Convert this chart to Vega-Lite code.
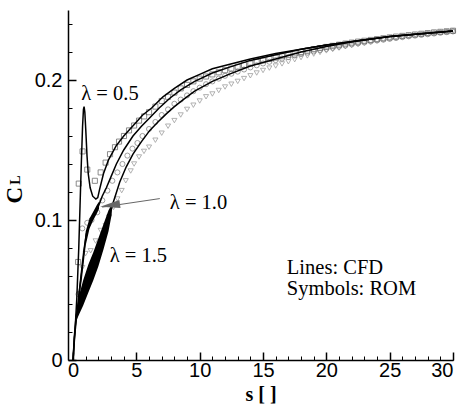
{
  "$schema": "https://vega.github.io/schema/vega-lite/v6.json",
  "width": 385,
  "height": 350,
  "autosize": {"type": "none"},
  "padding": {"left": 68, "top": 10, "right": 15, "bottom": 55},
  "background": "white",
  "config": {
    "view": {"stroke": null},
    "axis": {"grid": false, "domainColor": "black", "tickColor": "black", "labelColor": "black", "titleColor": "black"}
  },
  "resolve": {"axis": {"x": "independent", "y": "independent"}},
  "datasets": {
    "cfd": [
      {"series": "0.5", "s": 0, "cl": 0},
      {"series": "0.5", "s": 0.15, "cl": 0.02},
      {"series": "0.5", "s": 0.3, "cl": 0.045},
      {"series": "0.5", "s": 0.45, "cl": 0.08},
      {"series": "0.5", "s": 0.55, "cl": 0.11},
      {"series": "0.5", "s": 0.65, "cl": 0.14},
      {"series": "0.5", "s": 0.75, "cl": 0.167},
      {"series": "0.5", "s": 0.82, "cl": 0.179},
      {"series": "0.5", "s": 0.87, "cl": 0.181},
      {"series": "0.5", "s": 0.93, "cl": 0.177},
      {"series": "0.5", "s": 1.0, "cl": 0.165},
      {"series": "0.5", "s": 1.1, "cl": 0.146},
      {"series": "0.5", "s": 1.2, "cl": 0.133},
      {"series": "0.5", "s": 1.35, "cl": 0.123},
      {"series": "0.5", "s": 1.55, "cl": 0.117},
      {"series": "0.5", "s": 1.8, "cl": 0.115},
      {"series": "0.5", "s": 1.95, "cl": 0.116},
      {"series": "0.5", "s": 2.1, "cl": 0.122},
      {"series": "0.5", "s": 2.4, "cl": 0.133},
      {"series": "0.5", "s": 2.8, "cl": 0.143},
      {"series": "0.5", "s": 3.4, "cl": 0.153},
      {"series": "0.5", "s": 4.0, "cl": 0.16},
      {"series": "0.5", "s": 4.7, "cl": 0.167},
      {"series": "0.5", "s": 5.5, "cl": 0.175},
      {"series": "0.5", "s": 6.2, "cl": 0.18},
      {"series": "0.5", "s": 7.1, "cl": 0.188},
      {"series": "0.5", "s": 8.0, "cl": 0.194},
      {"series": "0.5", "s": 9.0, "cl": 0.2},
      {"series": "0.5", "s": 10, "cl": 0.204},
      {"series": "0.5", "s": 11, "cl": 0.208},
      {"series": "0.5", "s": 12.3, "cl": 0.211},
      {"series": "0.5", "s": 14, "cl": 0.215},
      {"series": "0.5", "s": 16, "cl": 0.219},
      {"series": "0.5", "s": 18, "cl": 0.222},
      {"series": "0.5", "s": 20, "cl": 0.225},
      {"series": "0.5", "s": 22.5, "cl": 0.228},
      {"series": "0.5", "s": 25, "cl": 0.231},
      {"series": "0.5", "s": 27.5, "cl": 0.233},
      {"series": "0.5", "s": 30, "cl": 0.235},
      {"series": "1.0", "s": 0, "cl": 0},
      {"series": "1.0", "s": 0.1, "cl": 0.015},
      {"series": "1.0", "s": 0.3, "cl": 0.033},
      {"series": "1.0", "s": 0.6, "cl": 0.058},
      {"series": "1.0", "s": 0.85, "cl": 0.078},
      {"series": "1.0", "s": 1.05, "cl": 0.09},
      {"series": "1.0", "s": 1.4, "cl": 0.099},
      {"series": "1.0", "s": 1.7, "cl": 0.104},
      {"series": "1.0", "s": 2.05, "cl": 0.111},
      {"series": "1.0", "s": 2.3, "cl": 0.117},
      {"series": "1.0", "s": 2.63, "cl": 0.123},
      {"series": "1.0", "s": 3.0, "cl": 0.131},
      {"series": "1.0", "s": 3.42, "cl": 0.14},
      {"series": "1.0", "s": 4.0, "cl": 0.15},
      {"series": "1.0", "s": 4.73, "cl": 0.16},
      {"series": "1.0", "s": 5.4, "cl": 0.167},
      {"series": "1.0", "s": 6.06, "cl": 0.173},
      {"series": "1.0", "s": 6.8, "cl": 0.18},
      {"series": "1.0", "s": 7.64, "cl": 0.187},
      {"series": "1.0", "s": 8.5, "cl": 0.193},
      {"series": "1.0", "s": 9.6, "cl": 0.199},
      {"series": "1.0", "s": 11, "cl": 0.205},
      {"series": "1.0", "s": 12.3, "cl": 0.209},
      {"series": "1.0", "s": 14, "cl": 0.214},
      {"series": "1.0", "s": 16, "cl": 0.218},
      {"series": "1.0", "s": 18, "cl": 0.222},
      {"series": "1.0", "s": 20, "cl": 0.225},
      {"series": "1.0", "s": 22.5, "cl": 0.228},
      {"series": "1.0", "s": 25, "cl": 0.231},
      {"series": "1.0", "s": 27.5, "cl": 0.233},
      {"series": "1.0", "s": 30, "cl": 0.235},
      {"series": "1.5", "s": 0, "cl": 0},
      {"series": "1.5", "s": 0.1, "cl": 0.017},
      {"series": "1.5", "s": 0.25, "cl": 0.032},
      {"series": "1.5", "s": 0.5, "cl": 0.04},
      {"series": "1.5", "s": 0.8, "cl": 0.048},
      {"series": "1.5", "s": 1.2, "cl": 0.058},
      {"series": "1.5", "s": 1.6, "cl": 0.067},
      {"series": "1.5", "s": 2.0, "cl": 0.077},
      {"series": "1.5", "s": 2.4, "cl": 0.088},
      {"series": "1.5", "s": 2.8, "cl": 0.1},
      {"series": "1.5", "s": 3.15, "cl": 0.112},
      {"series": "1.5", "s": 3.68, "cl": 0.127},
      {"series": "1.5", "s": 4.2, "cl": 0.138},
      {"series": "1.5", "s": 4.73, "cl": 0.147},
      {"series": "1.5", "s": 5.4, "cl": 0.156},
      {"series": "1.5", "s": 6.06, "cl": 0.164},
      {"series": "1.5", "s": 6.7, "cl": 0.17},
      {"series": "1.5", "s": 7.38, "cl": 0.176},
      {"series": "1.5", "s": 8.0, "cl": 0.181},
      {"series": "1.5", "s": 8.7, "cl": 0.186},
      {"series": "1.5", "s": 9.6, "cl": 0.192},
      {"series": "1.5", "s": 11, "cl": 0.199},
      {"series": "1.5", "s": 12.3, "cl": 0.204},
      {"series": "1.5", "s": 14, "cl": 0.21},
      {"series": "1.5", "s": 16, "cl": 0.215},
      {"series": "1.5", "s": 18, "cl": 0.22},
      {"series": "1.5", "s": 20, "cl": 0.224},
      {"series": "1.5", "s": 22.5, "cl": 0.228},
      {"series": "1.5", "s": 25, "cl": 0.231},
      {"series": "1.5", "s": 27.5, "cl": 0.233},
      {"series": "1.5", "s": 30, "cl": 0.235}
    ],
    "band": [
      {"series": "1.0", "s": 0.4, "lo": 0.038, "hi": 0.046},
      {"series": "1.0", "s": 0.7, "lo": 0.058, "hi": 0.068},
      {"series": "1.0", "s": 1.0, "lo": 0.082, "hi": 0.092},
      {"series": "1.0", "s": 1.3, "lo": 0.094, "hi": 0.101},
      {"series": "1.0", "s": 1.6, "lo": 0.1, "hi": 0.106},
      {"series": "1.0", "s": 1.9, "lo": 0.105, "hi": 0.111},
      {"series": "1.0", "s": 2.05, "lo": 0.108, "hi": 0.113},
      {"series": "1.5", "s": 0.3, "lo": 0.029, "hi": 0.037},
      {"series": "1.5", "s": 0.5, "lo": 0.033, "hi": 0.047},
      {"series": "1.5", "s": 0.8, "lo": 0.039, "hi": 0.057},
      {"series": "1.5", "s": 1.2, "lo": 0.048, "hi": 0.068},
      {"series": "1.5", "s": 1.6, "lo": 0.057, "hi": 0.077},
      {"series": "1.5", "s": 2.0, "lo": 0.067, "hi": 0.087},
      {"series": "1.5", "s": 2.4, "lo": 0.079, "hi": 0.097},
      {"series": "1.5", "s": 2.8, "lo": 0.092, "hi": 0.107},
      {"series": "1.5", "s": 3.05, "lo": 0.104, "hi": 0.111}
    ],
    "rom": [
      {"series": "0.5", "s": 0.4, "cl": 0.07},
      {"series": "0.5", "s": 0.45, "cl": 0.126},
      {"series": "0.5", "s": 0.75, "cl": 0.149},
      {"series": "0.5", "s": 1.12, "cl": 0.136},
      {"series": "0.5", "s": 1.72, "cl": 0.128},
      {"series": "0.5", "s": 2.18, "cl": 0.134},
      {"series": "0.5", "s": 2.57, "cl": 0.141},
      {"series": "0.5", "s": 2.92, "cl": 0.147},
      {"series": "0.5", "s": 3.31, "cl": 0.152},
      {"series": "0.5", "s": 3.63, "cl": 0.156},
      {"series": "0.5", "s": 4.02, "cl": 0.16},
      {"series": "0.5", "s": 4.42, "cl": 0.164},
      {"series": "0.5", "s": 4.82, "cl": 0.1675},
      {"series": "0.5", "s": 5.21, "cl": 0.171},
      {"series": "0.5", "s": 5.61, "cl": 0.174},
      {"series": "0.5", "s": 6.0, "cl": 0.177},
      {"series": "0.5", "s": 6.5, "cl": 0.181},
      {"series": "0.5", "s": 7.0, "cl": 0.185},
      {"series": "0.5", "s": 7.5, "cl": 0.188},
      {"series": "0.5", "s": 8.0, "cl": 0.191},
      {"series": "0.5", "s": 8.5, "cl": 0.194},
      {"series": "0.5", "s": 9.0, "cl": 0.1965},
      {"series": "0.5", "s": 9.5, "cl": 0.199},
      {"series": "0.5", "s": 10.0, "cl": 0.201},
      {"series": "0.5", "s": 10.5, "cl": 0.2025},
      {"series": "0.5", "s": 11.0, "cl": 0.204},
      {"series": "0.5", "s": 11.5, "cl": 0.2055},
      {"series": "0.5", "s": 12.0, "cl": 0.207},
      {"series": "0.5", "s": 12.5, "cl": 0.2082},
      {"series": "0.5", "s": 13.0, "cl": 0.2095},
      {"series": "0.5", "s": 13.5, "cl": 0.2107},
      {"series": "0.5", "s": 14.0, "cl": 0.2118},
      {"series": "0.5", "s": 14.5, "cl": 0.213},
      {"series": "0.5", "s": 15.0, "cl": 0.214},
      {"series": "0.5", "s": 15.5, "cl": 0.215},
      {"series": "0.5", "s": 16.0, "cl": 0.216},
      {"series": "0.5", "s": 16.5, "cl": 0.217},
      {"series": "0.5", "s": 17.0, "cl": 0.218},
      {"series": "0.5", "s": 17.5, "cl": 0.219},
      {"series": "0.5", "s": 18.0, "cl": 0.22},
      {"series": "0.5", "s": 18.5, "cl": 0.221},
      {"series": "0.5", "s": 19.0, "cl": 0.222},
      {"series": "0.5", "s": 19.5, "cl": 0.2228},
      {"series": "0.5", "s": 20.0, "cl": 0.2236},
      {"series": "0.5", "s": 20.5, "cl": 0.2244},
      {"series": "0.5", "s": 21.0, "cl": 0.2252},
      {"series": "0.5", "s": 21.5, "cl": 0.226},
      {"series": "0.5", "s": 22.0, "cl": 0.2267},
      {"series": "0.5", "s": 22.5, "cl": 0.2274},
      {"series": "0.5", "s": 23.0, "cl": 0.228},
      {"series": "0.5", "s": 23.5, "cl": 0.2286},
      {"series": "0.5", "s": 24.0, "cl": 0.2292},
      {"series": "0.5", "s": 24.5, "cl": 0.2298},
      {"series": "0.5", "s": 25.0, "cl": 0.2304},
      {"series": "0.5", "s": 25.5, "cl": 0.231},
      {"series": "0.5", "s": 26.0, "cl": 0.2315},
      {"series": "0.5", "s": 26.5, "cl": 0.232},
      {"series": "0.5", "s": 27.0, "cl": 0.2325},
      {"series": "0.5", "s": 27.5, "cl": 0.233},
      {"series": "0.5", "s": 28.0, "cl": 0.2335},
      {"series": "0.5", "s": 28.5, "cl": 0.234},
      {"series": "0.5", "s": 29.0, "cl": 0.2344},
      {"series": "0.5", "s": 29.5, "cl": 0.2348},
      {"series": "0.5", "s": 30.0, "cl": 0.2352},
      {"series": "1.0", "s": 0.43, "cl": 0.047},
      {"series": "1.0", "s": 0.73, "cl": 0.094},
      {"series": "1.0", "s": 1.12, "cl": 0.098},
      {"series": "1.0", "s": 1.46, "cl": 0.1},
      {"series": "1.0", "s": 1.91, "cl": 0.1055},
      {"series": "1.0", "s": 2.31, "cl": 0.114},
      {"series": "1.0", "s": 2.71, "cl": 0.121},
      {"series": "1.0", "s": 3.1, "cl": 0.128},
      {"series": "1.0", "s": 3.5, "cl": 0.134},
      {"series": "1.0", "s": 3.9, "cl": 0.14},
      {"series": "1.0", "s": 4.29, "cl": 0.146},
      {"series": "1.0", "s": 4.69, "cl": 0.151},
      {"series": "1.0", "s": 5.08, "cl": 0.155},
      {"series": "1.0", "s": 5.48, "cl": 0.16},
      {"series": "1.0", "s": 6.0, "cl": 0.165},
      {"series": "1.0", "s": 6.5, "cl": 0.17},
      {"series": "1.0", "s": 7.0, "cl": 0.175},
      {"series": "1.0", "s": 7.5, "cl": 0.179},
      {"series": "1.0", "s": 8.0, "cl": 0.183},
      {"series": "1.0", "s": 8.5, "cl": 0.186},
      {"series": "1.0", "s": 9.0, "cl": 0.189},
      {"series": "1.0", "s": 9.5, "cl": 0.192},
      {"series": "1.0", "s": 10.0, "cl": 0.1945},
      {"series": "1.0", "s": 10.5, "cl": 0.197},
      {"series": "1.0", "s": 11.0, "cl": 0.199},
      {"series": "1.0", "s": 11.5, "cl": 0.201},
      {"series": "1.0", "s": 12.0, "cl": 0.203},
      {"series": "1.0", "s": 12.5, "cl": 0.2045},
      {"series": "1.0", "s": 13.0, "cl": 0.206},
      {"series": "1.0", "s": 13.5, "cl": 0.2075},
      {"series": "1.0", "s": 14.0, "cl": 0.209},
      {"series": "1.0", "s": 14.5, "cl": 0.2105},
      {"series": "1.0", "s": 15.0, "cl": 0.2118},
      {"series": "1.0", "s": 15.5, "cl": 0.213},
      {"series": "1.0", "s": 16.0, "cl": 0.2142},
      {"series": "1.0", "s": 16.5, "cl": 0.2153},
      {"series": "1.0", "s": 17.0, "cl": 0.2164},
      {"series": "1.0", "s": 17.5, "cl": 0.2175},
      {"series": "1.0", "s": 18.0, "cl": 0.2185},
      {"series": "1.0", "s": 18.5, "cl": 0.2195},
      {"series": "1.0", "s": 19.0, "cl": 0.2204},
      {"series": "1.0", "s": 19.5, "cl": 0.2213},
      {"series": "1.0", "s": 20.0, "cl": 0.2222},
      {"series": "1.0", "s": 20.5, "cl": 0.223},
      {"series": "1.0", "s": 21.0, "cl": 0.2238},
      {"series": "1.0", "s": 21.5, "cl": 0.2246},
      {"series": "1.0", "s": 22.0, "cl": 0.2254},
      {"series": "1.0", "s": 22.5, "cl": 0.2261},
      {"series": "1.0", "s": 23.0, "cl": 0.2268},
      {"series": "1.0", "s": 23.5, "cl": 0.2275},
      {"series": "1.0", "s": 24.0, "cl": 0.2282},
      {"series": "1.0", "s": 24.5, "cl": 0.2288},
      {"series": "1.0", "s": 25.0, "cl": 0.2294},
      {"series": "1.0", "s": 25.5, "cl": 0.23},
      {"series": "1.0", "s": 26.0, "cl": 0.2306},
      {"series": "1.0", "s": 26.5, "cl": 0.2312},
      {"series": "1.0", "s": 27.0, "cl": 0.2317},
      {"series": "1.0", "s": 27.5, "cl": 0.2322},
      {"series": "1.0", "s": 28.0, "cl": 0.2327},
      {"series": "1.0", "s": 28.5, "cl": 0.2332},
      {"series": "1.0", "s": 29.0, "cl": 0.2337},
      {"series": "1.0", "s": 29.5, "cl": 0.2342},
      {"series": "1.0", "s": 30.0, "cl": 0.2347},
      {"series": "1.5", "s": 0.46, "cl": 0.047},
      {"series": "1.5", "s": 0.73, "cl": 0.066},
      {"series": "1.5", "s": 0.99, "cl": 0.076},
      {"series": "1.5", "s": 1.39, "cl": 0.078},
      {"series": "1.5", "s": 1.78, "cl": 0.085},
      {"series": "1.5", "s": 2.18, "cl": 0.0925},
      {"series": "1.5", "s": 2.57, "cl": 0.096},
      {"series": "1.5", "s": 2.84, "cl": 0.102},
      {"series": "1.5", "s": 3.2, "cl": 0.109},
      {"series": "1.5", "s": 3.5, "cl": 0.115},
      {"series": "1.5", "s": 3.84, "cl": 0.121},
      {"series": "1.5", "s": 4.16, "cl": 0.128},
      {"series": "1.5", "s": 4.55, "cl": 0.135},
      {"series": "1.5", "s": 4.82, "cl": 0.14},
      {"series": "1.5", "s": 5.21, "cl": 0.145},
      {"series": "1.5", "s": 5.6, "cl": 0.149},
      {"series": "1.5", "s": 6.0, "cl": 0.152},
      {"series": "1.5", "s": 6.5, "cl": 0.157},
      {"series": "1.5", "s": 7.0, "cl": 0.162},
      {"series": "1.5", "s": 7.5, "cl": 0.167},
      {"series": "1.5", "s": 8.0, "cl": 0.171},
      {"series": "1.5", "s": 8.5, "cl": 0.175},
      {"series": "1.5", "s": 9.0, "cl": 0.179},
      {"series": "1.5", "s": 9.5, "cl": 0.182},
      {"series": "1.5", "s": 10.0, "cl": 0.185},
      {"series": "1.5", "s": 10.5, "cl": 0.188},
      {"series": "1.5", "s": 11.0, "cl": 0.19},
      {"series": "1.5", "s": 11.5, "cl": 0.1925},
      {"series": "1.5", "s": 12.0, "cl": 0.195},
      {"series": "1.5", "s": 12.5, "cl": 0.197},
      {"series": "1.5", "s": 13.0, "cl": 0.199},
      {"series": "1.5", "s": 13.5, "cl": 0.201},
      {"series": "1.5", "s": 14.0, "cl": 0.203},
      {"series": "1.5", "s": 14.5, "cl": 0.205},
      {"series": "1.5", "s": 15.0, "cl": 0.2068},
      {"series": "1.5", "s": 15.5, "cl": 0.2085},
      {"series": "1.5", "s": 16.0, "cl": 0.21},
      {"series": "1.5", "s": 16.5, "cl": 0.2115},
      {"series": "1.5", "s": 17.0, "cl": 0.213},
      {"series": "1.5", "s": 17.5, "cl": 0.2145},
      {"series": "1.5", "s": 18.0, "cl": 0.216},
      {"series": "1.5", "s": 18.5, "cl": 0.2172},
      {"series": "1.5", "s": 19.0, "cl": 0.2185},
      {"series": "1.5", "s": 19.5, "cl": 0.2197},
      {"series": "1.5", "s": 20.0, "cl": 0.2208},
      {"series": "1.5", "s": 20.5, "cl": 0.2218},
      {"series": "1.5", "s": 21.0, "cl": 0.2228},
      {"series": "1.5", "s": 21.5, "cl": 0.2238},
      {"series": "1.5", "s": 22.0, "cl": 0.2247},
      {"series": "1.5", "s": 22.5, "cl": 0.2255},
      {"series": "1.5", "s": 23.0, "cl": 0.2263},
      {"series": "1.5", "s": 23.5, "cl": 0.2271},
      {"series": "1.5", "s": 24.0, "cl": 0.2279},
      {"series": "1.5", "s": 24.5, "cl": 0.2286},
      {"series": "1.5", "s": 25.0, "cl": 0.2293},
      {"series": "1.5", "s": 25.5, "cl": 0.23},
      {"series": "1.5", "s": 26.0, "cl": 0.2306},
      {"series": "1.5", "s": 26.5, "cl": 0.2312},
      {"series": "1.5", "s": 27.0, "cl": 0.2318},
      {"series": "1.5", "s": 27.5, "cl": 0.2323},
      {"series": "1.5", "s": 28.0, "cl": 0.2328},
      {"series": "1.5", "s": 28.5, "cl": 0.2333},
      {"series": "1.5", "s": 29.0, "cl": 0.2338},
      {"series": "1.5", "s": 29.5, "cl": 0.2343},
      {"series": "1.5", "s": 30.0, "cl": 0.2348}
    ]
  },
  "layer": [
    {
      "data": {"name": "rom"},
      "mark": {"type": "point", "filled": false, "strokeWidth": 0.8, "size": 26},
      "encoding": {
        "x": {"field": "s", "type": "quantitative", "scale": {"domain": [-0.4, 30], "nice": false, "zero": false},
              "axis": {"orient": "bottom", "values": [0,1,2,3,4,5,6,7,8,9,10,11,12,13,14,15,16,17,18,19,20,21,22,23,24,25,26,27,28,29,30], "tickSize": -4, "labels": false, "domain": false, "title": null, "tickColor": "black", "tickWidth": 1}},
        "y": {"field": "cl", "type": "quantitative", "scale": {"domain": [0, 0.25], "nice": false, "zero": false},
              "axis": {"orient": "left", "values": [0.02,0.04,0.06,0.08,0.12,0.14,0.16,0.18,0.22,0.24], "tickSize": -4, "labels": false, "domain": false, "title": null, "tickColor": "black", "tickWidth": 1}},
        "shape": {"field": "series", "type": "nominal", "scale": {"domain": ["0.5", "1.0", "1.5"], "range": ["square", "circle", "triangle-down"]}, "legend": null},
        "color": {"field": "series", "type": "nominal", "scale": {"domain": ["0.5", "1.0", "1.5"], "range": ["#333333", "#555555", "#777777"]}, "legend": null}
      }
    },
    {
      "data": {"name": "band"},
      "mark": {"type": "area", "color": "black", "opacity": 1},
      "encoding": {
        "x": {"field": "s", "type": "quantitative", "axis": null},
        "y": {"field": "lo", "type": "quantitative", "axis": null},
        "y2": {"field": "hi"},
        "detail": {"field": "series", "type": "nominal"}
      }
    },
    {
      "data": {"name": "cfd"},
      "mark": {"type": "line", "color": "black", "strokeWidth": 1.5},
      "encoding": {
        "x": {"field": "s", "type": "quantitative",
              "axis": {"orient": "bottom", "values": [0, 5, 10, 15, 20, 25, 30], "tickSize": -8, "tickWidth": 1.5, "domainWidth": 1.5, "labelPadding": 8, "labelFont": "Liberation Sans", "labelFontSize": 20,
                       "title": "s [ ]", "titleFont": "Liberation Serif", "titleFontWeight": "bold", "titleFontSize": 20, "titlePadding": 4}},
        "y": {"field": "cl", "type": "quantitative",
              "axis": {"orient": "left", "values": [0, 0.1, 0.2], "format": "~g", "tickSize": -8, "tickWidth": 1.5, "domainWidth": 1.5, "labelPadding": 14, "labelFont": "Liberation Sans", "labelFontSize": 20, "title": null}},
        "detail": {"field": "series", "type": "nominal"}
      }
    },
    {
      "data": {"values": [{"s": 6.85, "cl": 0.1153, "s2": 2.3, "cl2": 0.1092}]},
      "mark": {"type": "rule", "color": "#666666", "strokeWidth": 1},
      "encoding": {
        "x": {"field": "s", "type": "quantitative", "axis": null},
        "y": {"field": "cl", "type": "quantitative", "axis": null},
        "x2": {"field": "s2"},
        "y2": {"field": "cl2"}
      }
    },
    {
      "data": {"values": [{"s": 2.92, "cl": 0.1104}]},
      "mark": {"type": "point", "shape": "M-1,0L1,-0.4L1,0.4Z", "filled": true, "color": "#666666", "size": 400, "angle": -8, "opacity": 1},
      "encoding": {
        "x": {"field": "s", "type": "quantitative", "axis": null},
        "y": {"field": "cl", "type": "quantitative", "axis": null}
      }
    },
    {
      "data": {"values": [
        {"s": 0.65, "cl": 0.1856, "label": "λ = 0.5"},
        {"s": 7.64, "cl": 0.108, "label": "λ = 1.0"},
        {"s": 2.89, "cl": 0.07, "label": "λ = 1.5"},
        {"s": 16.88, "cl": 0.0617, "label": "Lines: CFD"},
        {"s": 16.88, "cl": 0.0462, "label": "Symbols: ROM"}
      ]},
      "mark": {"type": "text", "font": "Liberation Serif", "fontSize": 20.5, "align": "left", "baseline": "alphabetic", "color": "black"},
      "encoding": {
        "x": {"field": "s", "type": "quantitative", "axis": null},
        "y": {"field": "cl", "type": "quantitative", "axis": null},
        "text": {"field": "label"}
      }
    },
    {
      "data": {"values": [{"s": -4.59, "cl": 0.1178, "label": "C"}]},
      "mark": {"type": "text", "font": "Liberation Serif", "fontWeight": "bold", "fontSize": 23, "angle": 270, "align": "center", "baseline": "middle", "color": "black"},
      "encoding": {
        "x": {"field": "s", "type": "quantitative", "axis": null},
        "y": {"field": "cl", "type": "quantitative", "axis": null},
        "text": {"field": "label"}
      }
    },
    {
      "data": {"values": [{"s": -4.5, "cl": 0.1285, "label": "L"}]},
      "mark": {"type": "text", "font": "Liberation Serif", "fontWeight": "bold", "fontSize": 14, "angle": 270, "align": "center", "baseline": "middle", "color": "black"},
      "encoding": {
        "x": {"field": "s", "type": "quantitative", "axis": null},
        "y": {"field": "cl", "type": "quantitative", "axis": null},
        "text": {"field": "label"}
      }
    }
  ]
}
